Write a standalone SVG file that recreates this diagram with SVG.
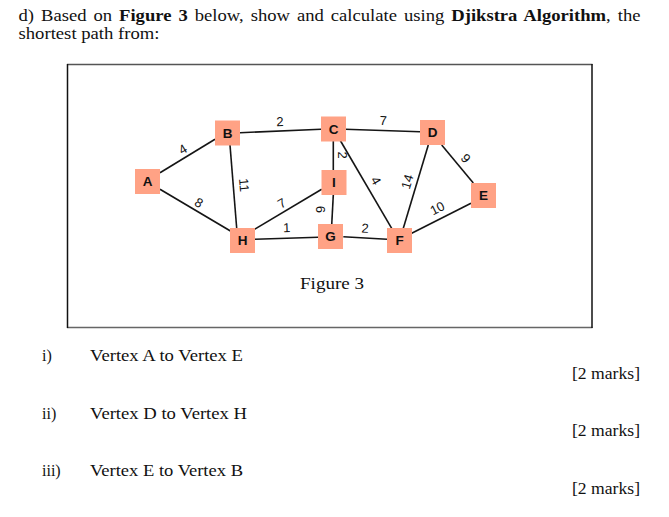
<svg xmlns="http://www.w3.org/2000/svg" width="669" height="517" viewBox="0 0 669 517">
<style>
.t{font-family:"Liberation Serif","Times New Roman",serif;font-size:16px;fill:#111}
.b{font-weight:bold}
.n rect{fill:#FFA285}
.n text{font-family:"Liberation Sans",Arial,sans-serif;font-size:13.5px;font-weight:bold;fill:#111;text-anchor:middle;dominant-baseline:central}
.e line{stroke:#151515;stroke-width:1.6}
.l{font-family:"Liberation Sans",Arial,sans-serif;font-size:13px;fill:#111;text-anchor:middle;dominant-baseline:central}
</style>
<rect width="669" height="517" fill="#fff"/>
<text class="t" x="18.5" y="21" textLength="622" lengthAdjust="spacingAndGlyphs" word-spacing="2">d) Based on <tspan class="b">Figure 3</tspan> below, show and calculate using <tspan class="b">Djikstra Algorithm</tspan>, the</text>
<text class="t" x="18.5" y="39" textLength="141" lengthAdjust="spacingAndGlyphs">shortest path from:</text>
<g id="frame">
<line x1="67" y1="64.5" x2="592.5" y2="64.5" stroke="#555" stroke-width="1.5"/>
<line x1="67" y1="327.5" x2="592.5" y2="327.5" stroke="#666" stroke-width="1.5"/>
<line x1="67.5" y1="64" x2="67.5" y2="328" stroke="#111" stroke-width="1.5"/>
<line x1="592" y1="64" x2="592" y2="328" stroke="#111" stroke-width="1.5"/>
</g>
<g id="connectors" class="e">
<line x1="160" y1="172.7" x2="215" y2="139.3"/>
<line x1="160" y1="189.3" x2="231.7" y2="231.7"/>
<line x1="230" y1="145" x2="236.7" y2="228.3"/>
<line x1="240" y1="132.7" x2="321" y2="129.3"/>
<line x1="333.3" y1="141" x2="333.3" y2="170"/>
<line x1="340" y1="140" x2="391.7" y2="228.3"/>
<line x1="345" y1="129.3" x2="420" y2="131.7"/>
<line x1="428.3" y1="145" x2="403.3" y2="228.3"/>
<line x1="441.7" y1="145" x2="473.3" y2="183"/>
<line x1="411.7" y1="233.3" x2="471" y2="203.3"/>
<line x1="343.3" y1="236.7" x2="387" y2="239.3"/>
<line x1="333.3" y1="195" x2="331.7" y2="225"/>
<line x1="253.3" y1="230" x2="321.7" y2="189.3"/>
<line x1="255" y1="239.3" x2="318.3" y2="237.3"/>
</g>
<g id="edge-labels">
<text class="l" transform="translate(182.7 149.3) rotate(-31)">4</text>
<text class="l" transform="translate(199 202.7) rotate(31)">8</text>
<text class="l" transform="translate(244 185) rotate(85)">11</text>
<text class="l" transform="translate(280 121.7) rotate(-2)">2</text>
<text class="l" transform="translate(342.7 155) rotate(90)">2</text>
<text class="l" transform="translate(376 180.7) rotate(60)">4</text>
<text class="l" transform="translate(383.3 120.7) rotate(2)">7</text>
<text class="l" transform="translate(407.3 181.7) rotate(-73)">14</text>
<text class="l" transform="translate(465.7 158.3) rotate(49)">9</text>
<text class="l" transform="translate(437.3 208.3) rotate(-27)">10</text>
<text class="l" transform="translate(365 228.3) rotate(3)">2</text>
<text class="l" transform="translate(320.7 209.3) rotate(90)">6</text>
<text class="l" transform="translate(281.7 203.3) rotate(-31)">7</text>
<text class="l" transform="translate(286.7 227.7) rotate(-2)">1</text>
</g>
<g id="A" class="n"><rect x="135" y="169" width="25" height="25"/><text x="147.5" y="181.5">A</text></g>
<g id="B" class="n"><rect x="215" y="120.5" width="25" height="25"/><text x="227.5" y="133">B</text></g>
<g id="C" class="n"><rect x="321" y="116.5" width="25" height="25"/><text x="333.5" y="129">C</text></g>
<g id="D" class="n"><rect x="420" y="120" width="25" height="25"/><text x="432.5" y="132.5">D</text></g>
<g id="E" class="n"><rect x="471" y="183" width="25" height="25"/><text x="483.5" y="195.5">E</text></g>
<g id="I" class="n"><rect x="321.5" y="170" width="25" height="25"/><text x="334" y="182.5">I</text></g>
<g id="G" class="n"><rect x="318" y="224" width="25" height="25"/><text x="330.5" y="236.5">G</text></g>
<g id="H" class="n"><rect x="230" y="228" width="25" height="25"/><text x="242.5" y="240.5">H</text></g>
<g id="F" class="n"><rect x="387" y="228" width="25" height="25"/><text x="399.5" y="240.5">F</text></g>
<text class="t" x="300" y="288.5" textLength="64" lengthAdjust="spacingAndGlyphs">Figure 3</text>
<text class="t" x="42" y="361">i)</text>
<text class="t" x="90" y="361" textLength="153" lengthAdjust="spacingAndGlyphs">Vertex A to Vertex E</text>
<text class="t" x="640" y="378.5" text-anchor="end" textLength="68" lengthAdjust="spacingAndGlyphs">[2 marks]</text>
<text class="t" x="42" y="418.5">ii)</text>
<text class="t" x="90" y="418.5" textLength="157" lengthAdjust="spacingAndGlyphs">Vertex D to Vertex H</text>
<text class="t" x="640" y="436" text-anchor="end" textLength="68" lengthAdjust="spacingAndGlyphs">[2 marks]</text>
<text class="t" x="42" y="476">iii)</text>
<text class="t" x="90" y="476" textLength="153" lengthAdjust="spacingAndGlyphs">Vertex E to Vertex B</text>
<text class="t" x="640" y="493.5" text-anchor="end" textLength="68" lengthAdjust="spacingAndGlyphs">[2 marks]</text>
</svg>
